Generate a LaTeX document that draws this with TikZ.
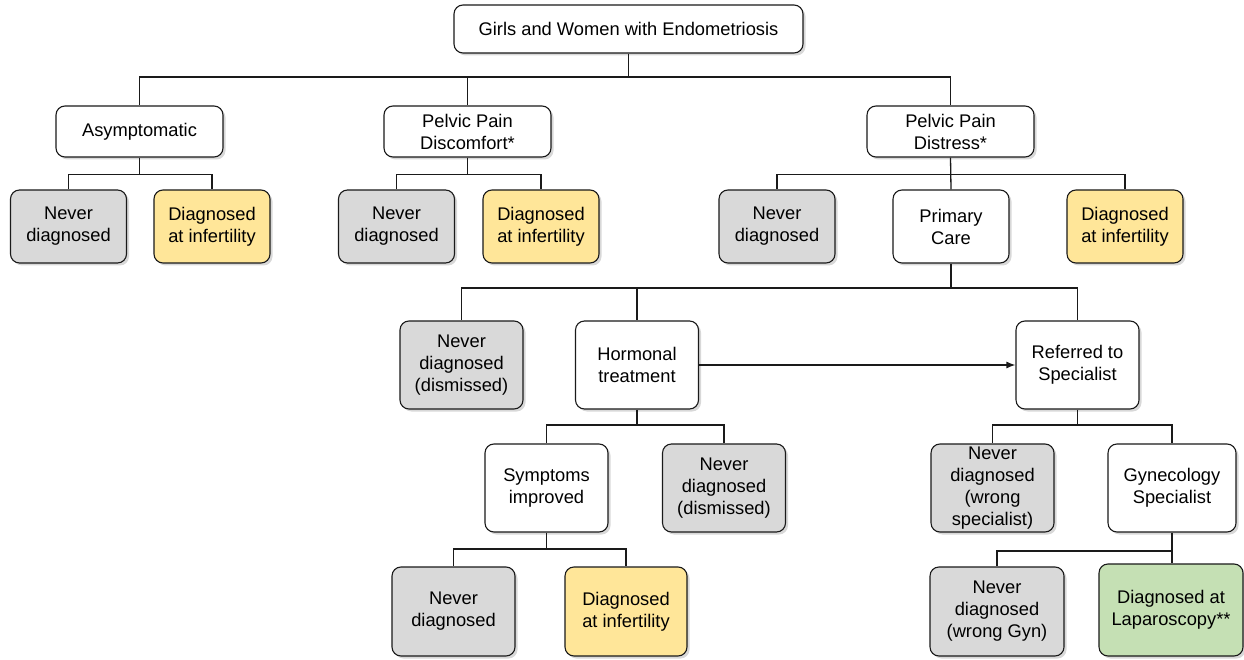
\documentclass[tikz,border=0pt]{standalone}
\usepackage{fontspec}
\setmainfont{Liberation Sans}
\usetikzlibrary{arrows.meta,shadows}
\definecolor{graybox}{HTML}{D9D9D9}
\definecolor{yellowbox}{HTML}{FFE699}
\definecolor{greenbox}{HTML}{C5E0B4}
\definecolor{edgecol}{HTML}{1A1A1A}
\begin{document}
\begin{tikzpicture}[x=1pt,y=-1pt,
  box/.style={draw=edgecol, line width=1.1pt, rounded corners=9pt, align=center,
    inner sep=0pt, font=\fontsize{18.3}{22}\selectfont, fill=white,
    drop shadow={shadow xshift=2.5pt,shadow yshift=-2.5pt,opacity=0.3}},
  neverbox/.style={box, fill=graybox},
  infbox/.style={box, fill=yellowbox},
  lapbox/.style={box, fill=greenbox},
  rowone/.style={minimum width=167pt, minimum height=51pt},
  rowtwo/.style={minimum width=116pt, minimum height=73pt},
  rowbig/.style={minimum width=123pt, minimum height=88pt},
  conn/.style={draw=edgecol, line width=1.3pt}]
\useasboundingbox (0,0) rectangle (1244,660);
\fill[white] (0,0) rectangle (1244,660);

% level 0
\node[box, minimum width=349pt, minimum height=48pt] (top) at (628.5,29) {Girls and Women with Endometriosis};

% level 1
\node[box, rowone] (asym) at (139.5,131.5) {Asymptomatic};
\node[box, rowone] (disc) at (467.5,131.5) {Pelvic Pain\\Discomfort*};
\node[box, rowone] (dist) at (950.5,131.5) {Pelvic Pain\\Distress*};

% level 2
\node[neverbox, rowtwo] (nA) at (68.5,226.5) {Never\\diagnosed};
\node[infbox, rowtwo] (dA) at (212,226.5) {Diagnosed\\at infertility};
\node[neverbox, rowtwo] (nB) at (396.5,226.5) {Never\\diagnosed};
\node[infbox, rowtwo] (dB) at (541,226.5) {Diagnosed\\at infertility};
\node[neverbox, rowtwo] (nC) at (777,226.5) {Never\\diagnosed};
\node[box, rowtwo] (pc) at (951,226.5) {Primary\\Care};
\node[infbox, rowtwo] (dC) at (1125,226.5) {Diagnosed\\at infertility};

% level 3
\node[neverbox, rowbig] (nd1) at (461.5,365) {Never\\diagnosed\\(dismissed)};
\node[box, rowbig] (hor) at (637,365) {Hormonal\\treatment};
\node[box, rowbig] (ref) at (1077.5,365) {Referred to\\Specialist};

% level 4
\node[box, rowbig] (sym) at (546.5,488) {Symptoms\\improved};
\node[neverbox, rowbig] (nd2) at (724,488) {Never\\diagnosed\\(dismissed)};
\node[neverbox, rowbig] (ndws) at (992.5,488) {Never\\diagnosed\\(wrong\\specialist)};
\node[box, rowbig, minimum width=128pt] (gyn) at (1172,488) {Gynecology\\Specialist};

% level 5
\node[neverbox, rowbig, minimum height=89pt] (nd3) at (453.5,611.5) {Never\\diagnosed};
\node[infbox, rowbig, minimum width=122pt, minimum height=89pt] (di3) at (626,611.5) {Diagnosed\\at infertility};
\node[neverbox, minimum width=134pt, minimum height=89pt] (ndg) at (997,611.5) {Never\\diagnosed\\(wrong Gyn)};
\node[lapbox, minimum width=144pt, minimum height=92pt] (lap) at (1171,610) {Diagnosed at\\Laparoscopy**};

% connectors
\draw[conn] (top.south) -- (top.south |- 0,77) -| (asym.north);
\draw[conn] (top.south |- 0,77) -| (disc.north);
\draw[conn] (top.south |- 0,77) -| (dist.north);

\draw[conn] (asym.south) -- (asym.south |- 0,174.5) -| (nA.north);
\draw[conn] (asym.south |- 0,174.5) -| (dA.north);

\draw[conn] (disc.south) -- (disc.south |- 0,174.5) -| (nB.north);
\draw[conn] (disc.south |- 0,174.5) -| (dB.north);

\draw[conn] (dist.south) -- (pc.north);
\draw[conn] (dist.south |- 0,174.5) -| (nC.north);
\draw[conn] (dist.south |- 0,174.5) -| (dC.north);

\draw[conn] (pc.south) -- (pc.south |- 0,288) -| (nd1.north);
\draw[conn] (pc.south |- 0,288) -| (hor.north);
\draw[conn] (pc.south |- 0,288) -| (ref.north);

\draw[conn, -{Latex[length=9pt,width=7pt]}] (hor.east) -- (ref.west);

\draw[conn] (hor.south) -- (hor.south |- 0,425) -| (sym.north);
\draw[conn] (hor.south |- 0,425) -| (nd2.north);

\draw[conn] (ref.south) -- (ref.south |- 0,425) -| (ndws.north);
\draw[conn] (ref.south |- 0,425) -| (gyn.north);

\draw[conn] (sym.south) -- (sym.south |- 0,549) -| (nd3.north);
\draw[conn] (sym.south |- 0,549) -| (di3.north);

\draw[conn] (gyn.south) -- (gyn.south |- 0,551) -| (ndg.north);
\draw[conn] (gyn.south |- 0,551) -- (lap.north -| gyn.south);
\end{tikzpicture}
\end{document}
